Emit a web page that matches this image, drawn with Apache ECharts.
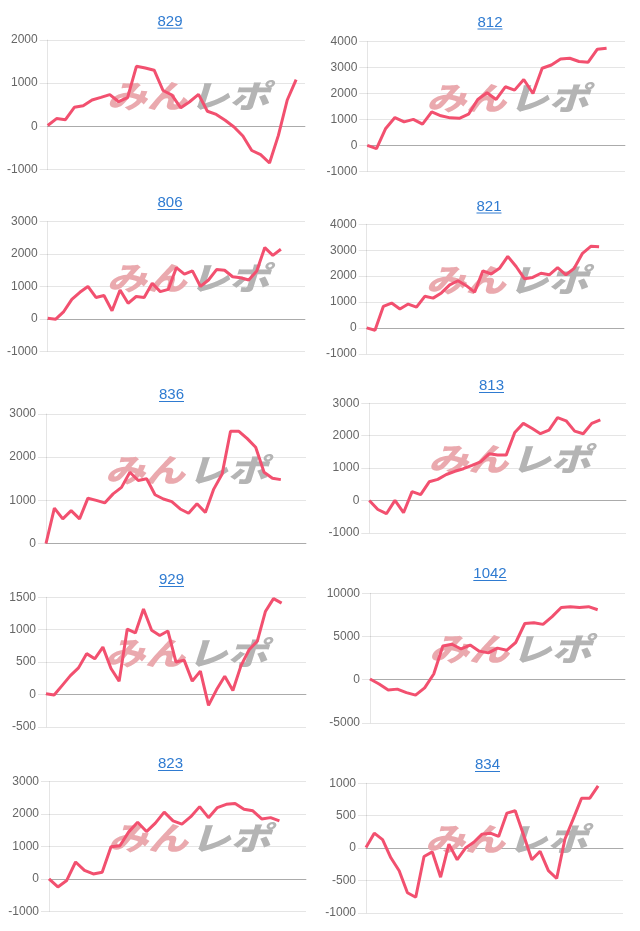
<!DOCTYPE html>
<html>
<head>
<meta charset="utf-8">
<script src="https://cdn.jsdelivr.net/npm/echarts@6/dist/echarts.min.js"></script>
<style>
html,body{margin:0;padding:0;background:#ffffff;}
#c{width:640px;height:931px;}
</style>
</head>
<body>
<div id="c"></div>
<script>
// ---- data ----
const titles = ['829', '812', '806', '821', '836', '813', '929', '1042', '823', '834'];

const s829 = [20, 180, 155, 440, 475, 610, 670, 735, 570, 665, 1390, 1350, 1300, 830, 725, 430, 570, 740, 350, 275, 140, -15, -225, -560, -655, -850, -210, 610, 1080];
const s812 = [0, -130, 650, 1070, 905, 1000, 815, 1290, 1140, 1060, 1040, 1200, 1770, 2030, 1770, 2260, 2130, 2540, 2000, 2975, 3100, 3330, 3360, 3235, 3210, 3710, 3750];
const s806 = [20, -10, 225, 600, 820, 1000, 660, 720, 250, 890, 480, 690, 660, 1100, 840, 910, 1580, 1380, 1480, 1000, 1200, 1520, 1500, 1300, 1270, 1200, 1480, 2200, 1960, 2150];
const s821 = [0, -90, 830, 960, 730, 920, 800, 1220, 1150, 1350, 1660, 1820, 1630, 1380, 2200, 2080, 2300, 2760, 2370, 1900, 1950, 2110, 2050, 2330, 2050, 2300, 2880, 3150, 3130];
const s836 = [0, 820, 570, 760, 570, 1050, 1000, 940, 1150, 1300, 1650, 1460, 1500, 1130, 1030, 970, 800, 700, 920, 720, 1260, 1610, 2600, 2600, 2430, 2230, 1650, 1510, 1480];
const s813 = [0, -280, -410, 0, -380, 270, 180, 575, 650, 800, 900, 980, 1080, 1190, 1440, 1400, 1400, 2100, 2380, 2230, 2060, 2170, 2560, 2460, 2140, 2060, 2380, 2490];
const s929 = [10, -10, 140, 290, 410, 630, 550, 730, 400, 205, 1010, 950, 1320, 990, 910, 980, 500, 530, 205, 360, -170, 75, 280, 60, 445, 690, 820, 1280, 1480, 1410];
const s1042 = [80, -500, -1200, -1100, -1500, -1800, -950, 650, 3900, 4100, 3550, 4000, 3300, 3100, 3650, 3400, 4300, 6500, 6600, 6400, 7300, 8350, 8450, 8350, 8450, 8100];
const s823 = [0, -250, -50, 520, 260, 150, 200, 990, 1020, 1450, 1750, 1460, 1720, 2060, 1790, 1690, 1920, 2230, 1890, 2200, 2300, 2330, 2150, 2100, 1850, 1890, 1790];
const s834 = [10, 230, 130, -150, -350, -690, -760, -130, -60, -450, 60, -180, 0, 90, 215, 230, 180, 540, 575, 205, -180, -50, -350, -470, 140, 450, 770, 770, 960];

const seriesData = [s829, s812, s806, s821, s836, s813, s929, s1042, s823, s834];

// number of x categories (days) per panel
const categoryCounts = [30, 29, 33, 32, 32, 31, 33, 29, 30, 32];

// y-axis tick ranges
const yMin  = [-1000, -1000, -1000, -1000, 0, -1000, -500, -5000, -1000, -1000];
const yMax  = [2000, 4000, 3000, 4000, 3000, 3000, 1500, 10000, 3000, 1000];
const yStep = [1000, 1000, 1000, 1000, 1000, 1000, 500, 5000, 1000, 500];

// ---- layout (pixels) ----
const layout = [
  {l: 47.7, t: 40,    r: 305, tx: 170,   ty: 21.7},
  {l: 367.3, t: 41.7, r: 625, tx: 490,   ty: 22.5},
  {l: 47.7, t: 221.7, r: 305, tx: 170,   ty: 203},
  {l: 366.7, t: 224.3, r: 624, tx: 489,  ty: 206.5},
  {l: 46,   t: 414,   r: 306, tx: 171.5, ty: 395},
  {l: 369.3, t: 403.3, r: 626, tx: 491.5, ty: 386},
  {l: 46,   t: 597.3, r: 306, tx: 171.5, ty: 580},
  {l: 370,  t: 593.3, r: 625, tx: 490,   ty: 574},
  {l: 49,   t: 781.7, r: 306, tx: 170.5, ty: 764},
  {l: 366,  t: 783.3, r: 623, tx: 487.5, ty: 765}
];
const gridH = 129.5;

const lineColor = '#f2506f';
const gridColor = 'rgba(0,0,0,0.1)';
const zeroColor = 'rgba(0,0,0,0.25)';
const titleColor = '#2f7bd1';
const titleFont = '15px "Liberation Sans", Arial, sans-serif';

const measure = document.createElement('canvas').getContext('2d');
measure.font = titleFont;

const grids = [], xAxes = [], yAxes = [], series = [], graphics = [];

titles.forEach(function (name, i) {
  const L = layout[i];
  grids.push({left: L.l, top: L.t, width: L.r - L.l, height: gridH, containLabel: false});
  const cats = [];
  for (let k = 1; k <= categoryCounts[i]; k++) cats.push(String(k));
  xAxes.push({
    type: 'category', gridIndex: i, data: cats, boundaryGap: false,
    axisLine: {show: true, onZero: true, lineStyle: {color: zeroColor, width: 1}},
    axisTick: {show: false}, axisLabel: {show: false}, splitLine: {show: false}
  });
  yAxes.push({
    type: 'value', gridIndex: i, min: yMin[i], max: yMax[i], interval: yStep[i],
    axisLine: {show: true, lineStyle: {color: gridColor, width: 1}},
    axisTick: {show: true, length: 8, lineStyle: {color: gridColor}},
    axisLabel: {
      color: '#666666', fontSize: 12, margin: 10,
      fontFamily: '"Liberation Sans", Arial, sans-serif',
      formatter: function (v) { return String(v); }
    },
    splitLine: {show: true, lineStyle: {color: gridColor, width: 1}}
  });
  series.push({
    type: 'line', xAxisIndex: i, yAxisIndex: i, data: seriesData[i],
    showSymbol: false, symbol: 'none', smooth: false, z: 5,
    lineStyle: {color: lineColor, width: 3}, itemStyle: {color: lineColor},
    animation: false
  });
  // title + underline
  const w = measure.measureText(name).width;
  graphics.push({
    type: 'text', x: L.tx, y: L.ty, z: 10,
    style: {text: name, fill: titleColor, font: titleFont, textAlign: 'center', textVerticalAlign: 'middle'}
  });
  graphics.push({
    type: 'line', z: 10,
    shape: {x1: L.tx - w / 2, y1: L.ty + 6.5, x2: L.tx + w / 2, y2: L.ty + 6.5},
    style: {stroke: titleColor, lineWidth: 1}
  });
  // watermark logo
  graphics.push({
    type: 'group', x: L.l + 59, y: L.t + 40, scaleX: 1.25, z: 1,
    children: [
      {type: 'text', x: 0, y: 0, z: 1, style: {text: 'みん', fill: '#eaa9ae', font: 'italic 900 32px "Noto Sans CJK JP", sans-serif', textVerticalAlign: 'top'}},
      {type: 'text', x: 66, y: 0, z: 1, style: {text: 'レポ', fill: '#b4b4b4', font: 'italic 900 32px "Noto Sans CJK JP", sans-serif', textVerticalAlign: 'top'}}
    ]
  });
});

const chart = echarts.init(document.getElementById('c'), null, {renderer: 'canvas'});
chart.setOption({
  animation: false,
  backgroundColor: '#ffffff',
  grid: grids,
  xAxis: xAxes,
  yAxis: yAxes,
  series: series,
  graphic: {elements: graphics}
});
</script>
</body>
</html>
